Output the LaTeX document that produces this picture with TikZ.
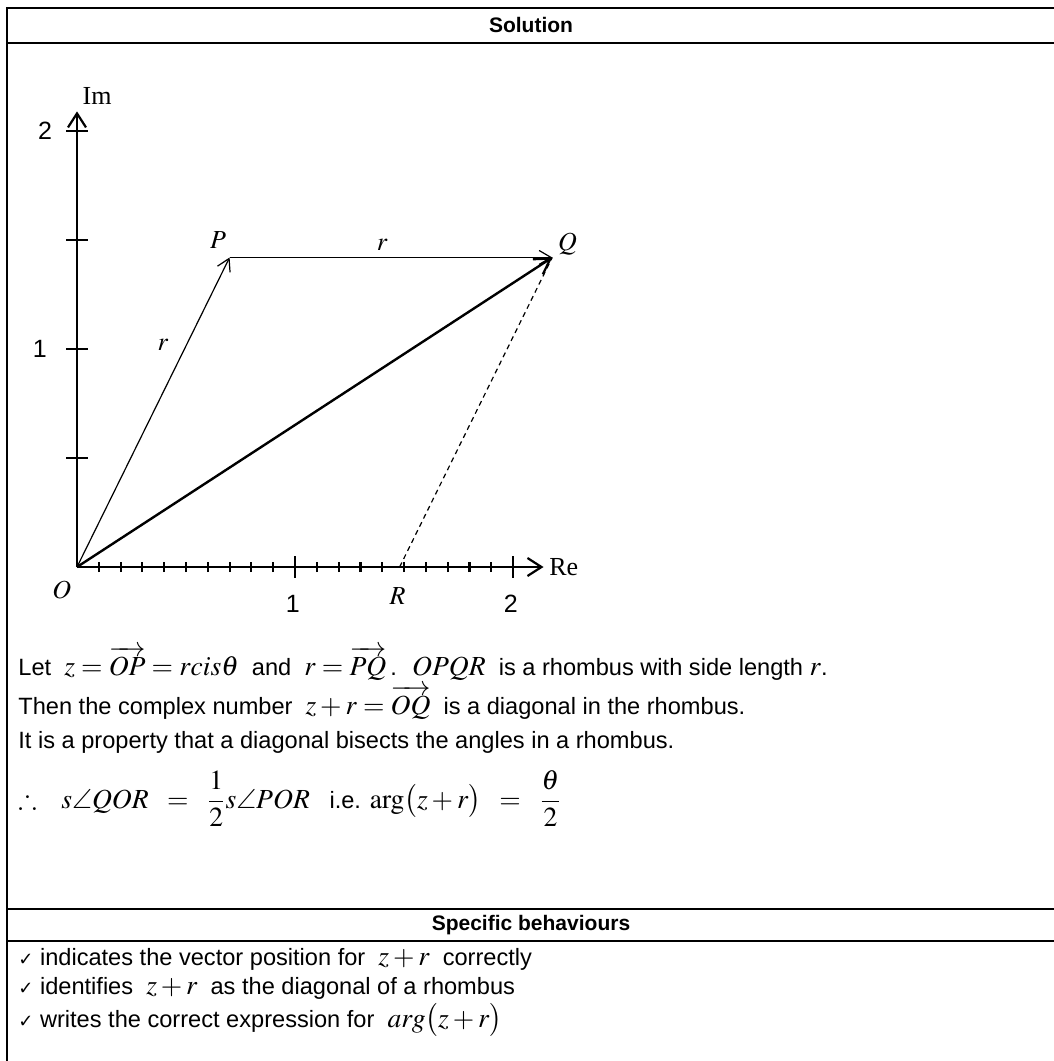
\documentclass[tikz,border=0pt]{standalone}
\usepackage{amsmath,amssymb}
\usepackage{mathptmx}
\usepackage[no-math]{fontspec}
\setmainfont{Liberation Sans}
\newfontfamily\serifmark{Liberation Serif}
\newfontfamily\symfont{DejaVu Sans}
\usetikzlibrary{arrows.meta}
\DeclareMathSizes{11.8}{13.8}{10}{8}
\newcommand{\chk}{{\symfont\fontsize{9}{10}\selectfont ✓}}

\begin{document}
\begin{tikzpicture}[x=0.5pt,y=-0.5pt,
    rule/.style={line width=1pt},
    head/.style={font=\fontsize{10.5}{12}\selectfont\bfseries, inner sep=0pt},
    txt/.style={anchor=base west, font=\fontsize{11.8}{14}\selectfont, inner sep=0pt, text height=8pt, text depth=2pt},
    axis/.style={line width=1.25pt, -{Straight Barb[length=7pt,width=9pt,line width=1.1pt]}},
    tickmark/.style={line width=1.1pt},
    vec/.style={line width=0.6pt, -{Straight Barb[length=6pt,width=7pt,line width=0.6pt]}},
    diag/.style={line width=1.2pt, -{Straight Barb[length=7.5pt,width=9pt,line width=1.1pt]}},
    guide/.style={line width=0.6pt, dash pattern=on 2.5pt off 2pt},
    num/.style={font=\fontsize{12.5}{14}\selectfont, inner sep=0pt},
    pt/.style={font=\fontsize{13}{15}\selectfont, inner sep=0pt},
]
\useasboundingbox (0,0) rectangle (1054,1061);
% table frame
\draw[rule] (7,1061) -- (7,8) -- (1054,8);
\draw[rule] (7,43) -- (1054,43);
\draw[rule] (7,909) -- (1054,909);
\draw[rule] (7,941) -- (1054,941);
\node[head] (sol) at (531,25) {Solution};
\node[head] (beh) at (531,925) {Specific behaviours};

% Argand diagram
\begin{scope}[shift={(77,567)}, x=109pt, y=109pt]
  \coordinate (O) at (0,0);
  \coordinate (P) at (0.70,1.42);
  \coordinate (Q) at (2.18,1.42);
  \coordinate (R) at (1.48,0);
  \coordinate (ReEnd) at (2.14,0);
  \coordinate (ImEnd) at (0,2.09);
  \draw[axis] (O) -- (ReEnd);
  \draw[axis] (O) -- (ImEnd);
  \foreach \k in {1,...,20}
    \draw[tickmark] (\k/10,-0.023) -- (\k/10,0.023);
  \foreach \k in {1,2}
    \draw[tickmark] (\k,-0.05) -- (\k,0.05);
  \foreach \k in {0.5,1,1.5,2}
    \draw[tickmark] (-0.05,\k) -- (0.05,\k);
  \node[num] (x1) at (0.99,-0.17) {1};
  \node[num] (x2) at (1.99,-0.17) {2};
  \node[num] (y1) at (-0.17,1) {1};
  \node[num] (y2) at (-0.147,2) {2};
  \node[pt, anchor=west] (re) at (2.165,0) {\serifmark Re};
  \node[pt] (im) at (0.092,2.16) {\serifmark Im};
  \node[pt] (lO) at (-0.07,-0.105) {$O$};
  \node[pt] (lR) at (1.47,-0.133) {$R$};
  \node[pt] (lP) at (0.647,1.5) {$P$};
  \node[pt] (lQ) at (2.25,1.48) {$Q$};
  \node[pt] (rPQ) at (1.40,1.477) {$r$};
  \node[pt] (rOP) at (0.394,1.018) {$r$};
  \draw[vec] (O) -- (P);
  \draw[vec] (P) -- (Q);
  \draw[diag] (O) -- (Q);
  \draw[guide] (R) -- (Q);
\end{scope}

% working
\node[txt] (let) at (18,675) {Let \ $z=\overrightarrow{OP}=r\mathit{cis}\theta$ \ and \ $r=\overrightarrow{PQ}$\,. \ $OPQR$ \ is a rhombus with side length $r$.};
\node[txt] (then) at (18,714) {Then the complex number \ $z+r=\overrightarrow{OQ}$ \ is a diagonal in the rhombus.};
\node[txt] (prop) at (18,748) {It is a property that a diagonal bisects the angles in a rhombus.};
\node[txt] (so) at (18,808) {$\therefore\;\;\; s\angle QOR \;\;=\;\; \dfrac{1}{2}s\angle POR$ \ \ i.e. $\arg\bigl(z+r\bigr) \;\;=\;\; \dfrac{\theta}{2}$};

% marking
\node[txt] (c1) at (18,965) {\chk\ indicates the vector position for \ $z+r$ \ correctly};
\node[txt] (c2) at (18,994) {\chk\ identifies \ $z+r$ \ as the diagonal of a rhombus};
\node[txt] (c3) at (18,1027) {\chk\ writes the correct expression for \ $arg\bigl(z+r\bigr)$};
\end{tikzpicture}
\end{document}
